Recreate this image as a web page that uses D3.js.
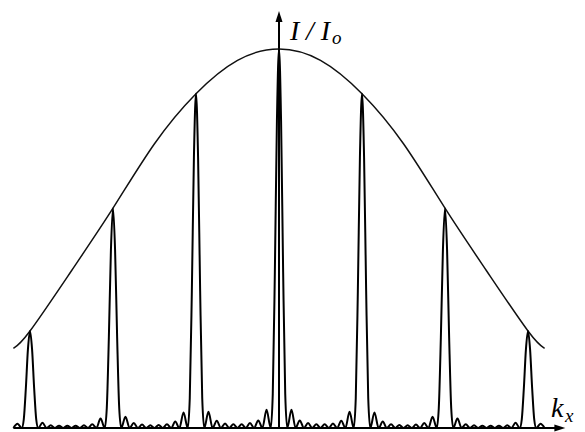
<!DOCTYPE html>
<html>
<head>
<meta charset="utf-8">
<script src="https://cdn.jsdelivr.net/npm/d3@7"></script>
<style>
  html, body { margin: 0; padding: 0; background: #fff; }
  svg { display: block; }
</style>
</head>
<body>
<svg id="chart" width="585" height="432"></svg>
<script>
// ---- data ----
// principal maxima positions (in grating orders) and heights (I/Io)
const peakK = [-3, -2, -1, 0, 1, 2, 3];
const peakI = [0.256, 0.58, 0.882, 1.0, 0.882, 0.58, 0.256];
// shape of a principal maximum: offsets from its centre and relative height
const peakOffsets = [-0.075, -0.05, -0.025, 0, 0.025, 0.05, 0.075];
const peakProfile = [0.09, 0.41, 0.81, 1.0, 0.81, 0.41, 0.09];
// secondary maxima heights in each gap between principal maxima (8 per gap)
const lobesGapM3 = [0.014, 0.007, 0.006, 0.006, 0.006, 0.007, 0.010, 0.025];
const lobesGapM2 = [0.030, 0.013, 0.009, 0.007, 0.008, 0.010, 0.017, 0.041];
const lobesGapM1 = [0.043, 0.019, 0.012, 0.010, 0.010, 0.013, 0.020, 0.048];
const lobesGapP0 = [0.048, 0.020, 0.013, 0.010, 0.010, 0.012, 0.019, 0.043];
const lobesGapP1 = [0.041, 0.017, 0.010, 0.008, 0.007, 0.009, 0.013, 0.030];
const lobesGapP2 = [0.025, 0.010, 0.007, 0.006, 0.006, 0.006, 0.007, 0.014];
// lobes outside the outermost principal maxima
const edgeLobeK = [-3.15, 3.15];
const edgeLobeI = [0.011, 0.011];
const traceStartK = -3.2, traceEndK = 3.2;
// envelope curve samples
const envK = [-3.2, -3, -2.5, -2, -1.5, -1, -0.5, 0, 0.5, 1, 1.5, 2, 2.5, 3, 3.2];
const envI = [0.21, 0.256, 0.415, 0.58, 0.75, 0.882, 0.97, 1.0, 0.97, 0.882, 0.75, 0.58, 0.415, 0.256, 0.21];
// axes extents
const axisK = [-3.2, 3.45];
const axisI = [0, 1.1];
const xLabel = "k", xSub = "x";
const yLabel = "I/I", ySub = "o";

// ---- scales ----
const svg = d3.select("#chart");
const x = d3.scaleLinear().domain([-3, 3]).range([30, 528]);
const y = d3.scaleLinear().domain([0, 1]).range([428, 49]);

// ---- build intensity trace ----
const gaps = [lobesGapM3, lobesGapM2, lobesGapM1, lobesGapP0, lobesGapP1, lobesGapP2];
const pts = [];
pts.push([traceStartK, 0]);
pts.push([edgeLobeK[0], edgeLobeI[0]]);
peakK.forEach((k, i) => {
  pts.push([k - 0.1, 0]);
  peakOffsets.forEach((o, j) => pts.push([k + o, peakI[i] * peakProfile[j]]));
  pts.push([k + 0.1, 0]);
  if (i < gaps.length) {
    gaps[i].forEach((h, j) => {
      pts.push([k + 0.1 * (j + 1.5), h]);
      pts.push([k + 0.1 * (j + 2), 0]);
    });
    pts.pop(); // next peak adds its own leading zero
  }
});
pts.push([edgeLobeK[1], edgeLobeI[1]]);
pts.push([traceEndK, 0]);

// ---- axes ----
const ax = svg.append("g").attr("stroke", "#000").attr("fill", "#000");
ax.append("line")
  .attr("x1", x(axisK[0])).attr("x2", x(axisK[1]) - 8)
  .attr("y1", y(0)).attr("y2", y(0)).attr("stroke-width", 2);
ax.append("path")
  .attr("d", `M${x(axisK[1])},${y(0)} L${x(axisK[1]) - 11},${y(0) - 3.5} L${x(axisK[1]) - 11},${y(0) + 3.5} Z`)
  .attr("stroke", "none");
ax.append("line")
  .attr("x1", x(0)).attr("x2", x(0))
  .attr("y1", y(axisI[0])).attr("y2", y(axisI[1]) + 8).attr("stroke-width", 2);
ax.append("path")
  .attr("d", `M${x(0)},${y(axisI[1])} L${x(0) - 3.5},${y(axisI[1]) + 11} L${x(0) + 3.5},${y(axisI[1]) + 11} Z`)
  .attr("stroke", "none");

// ---- envelope ----
svg.append("path")
  .datum(envK.map((k, i) => [k, envI[i]]))
  .attr("fill", "none").attr("stroke", "#111").attr("stroke-width", 1.5)
  .attr("d", d3.line().x(d => x(d[0])).y(d => y(d[1])).curve(d3.curveNatural));

// ---- intensity trace ----
svg.append("path")
  .datum(pts)
  .attr("fill", "none").attr("stroke", "#000").attr("stroke-width", 2)
  .attr("stroke-linejoin", "round")
  .attr("d", d3.line().x(d => x(d[0])).y(d => y(d[1])).curve(d3.curveMonotoneX));

// ---- labels ----
const font = "'Liberation Serif', 'Times New Roman', serif";
svg.append("text").attr("x", 290).attr("y", 39.5)
  .attr("font-family", font).attr("font-style", "italic").attr("font-size", 28)
  .attr("textLength", 40).attr("lengthAdjust", "spacing").text(yLabel);
svg.append("text").attr("x", 332).attr("y", 43.5)
  .attr("font-family", font).attr("font-style", "italic").attr("font-size", 19).text(ySub);
svg.append("text").attr("x", 551).attr("y", 417)
  .attr("font-family", font).attr("font-style", "italic").attr("font-size", 28).text(xLabel);
svg.append("text").attr("x", 565).attr("y", 421.5)
  .attr("font-family", font).attr("font-style", "italic").attr("font-size", 19).text(xSub);
</script>
</body>
</html>
